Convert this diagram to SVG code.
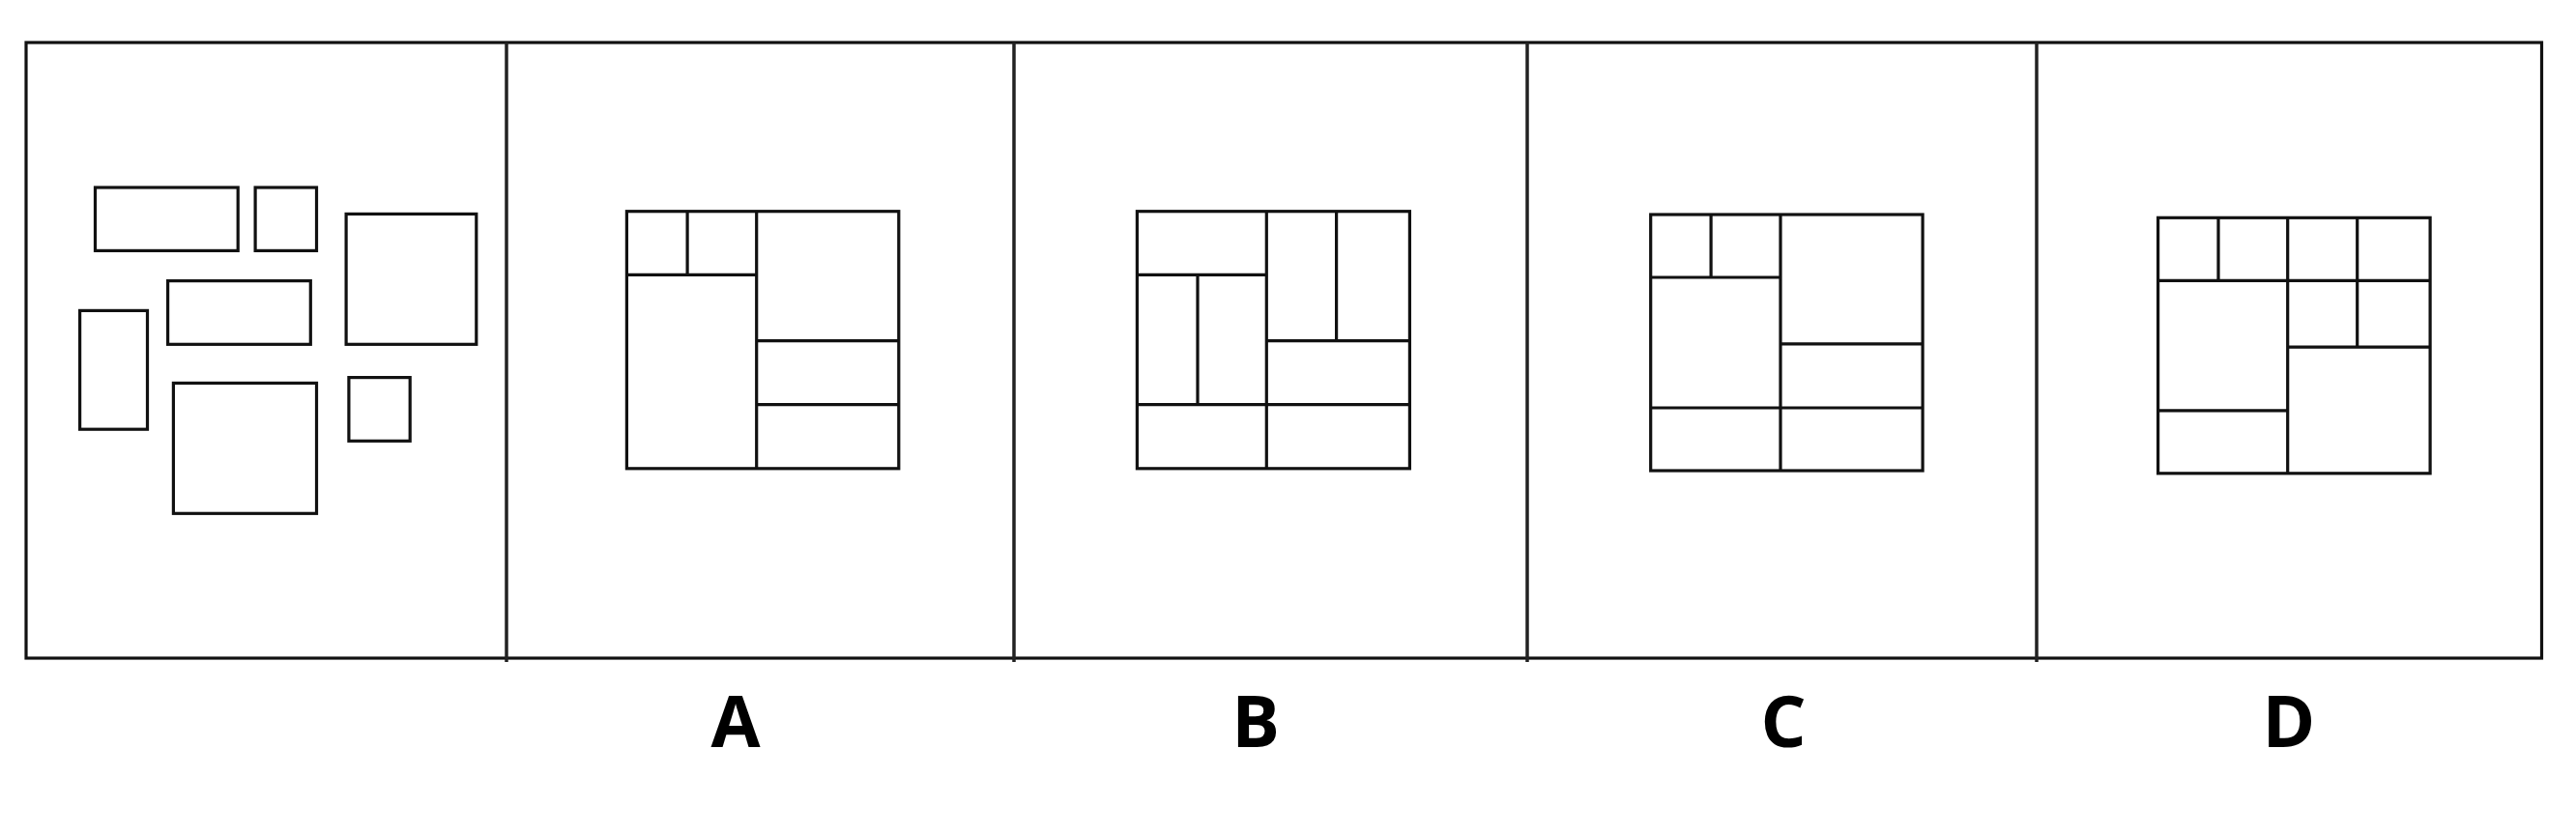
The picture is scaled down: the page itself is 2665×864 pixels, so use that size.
<svg xmlns="http://www.w3.org/2000/svg" width="2665" height="864" viewBox="0 0 2665 864">
<style>
.s{fill:none;stroke:#111;stroke-width:3.2}
.f{fill:none;stroke:#111;stroke-width:3.2}
.d{stroke:#222;stroke-width:3.5}
.lbl{font-family:"Open Sans","Liberation Sans",Arial,sans-serif;font-weight:bold;font-size:74px;fill:#000;text-anchor:middle}
</style>
<rect width="2665" height="864" fill="#fff"/>
<g id="frame">
<rect class="f" x="27" y="44" width="2602.5" height="637"/>
<line class="d" x1="524" y1="44" x2="524" y2="685"/>
<line class="d" x1="1049" y1="44" x2="1049" y2="685"/>
<line class="d" x1="1580" y1="44" x2="1580" y2="685"/>
<line class="d" x1="2107" y1="44" x2="2107" y2="685"/>
</g>
<g id="question">
<rect class="s" x="98.5" y="194" width="147.7" height="65.4"/>
<rect class="s" x="264.1" y="194" width="63.4" height="65.4"/>
<rect class="s" x="358.1" y="221.4" width="134.7" height="134.9"/>
<rect class="s" x="173.6" y="290.6" width="147.7" height="65.7"/>
<rect class="s" x="82.6" y="321.4" width="69.9" height="122.8"/>
<rect class="s" x="179.4" y="396.4" width="148.1" height="134.9"/>
<rect class="s" x="360.9" y="390.6" width="63.3" height="65.7"/>
</g>
<g id="optionA">
<rect class="s" x="648.4" y="218.7" width="281.4" height="266.1"/>
<path class="s" d="M782.7 218.7V484.8M711.1 218.7V284.3M648.4 284.3H782.7M782.7 352.6H929.8M782.7 418.7H929.8"/>
<text class="lbl" x="761" y="773">A</text>
</g>
<g id="optionB">
<rect class="s" x="1176.4" y="218.7" width="282" height="266.1"/>
<path class="s" d="M1310.3 218.7V484.8M1176.4 284.3H1310.3M1239 284.3V418.7M1176.4 418.7H1458.4M1382.6 218.7V352.6M1310.3 352.6H1458.4"/>
<text class="lbl" x="1299" y="773">B</text>
</g>
<g id="optionC">
<rect class="s" x="1707.7" y="222" width="281.4" height="265"/>
<path class="s" d="M1842 222V487M1770.1 222V287M1707.7 287H1842M1842 355.9H1989.1M1707.7 422H1989.1"/>
<text class="lbl" x="1845" y="773">C</text>
</g>
<g id="optionD">
<rect class="s" x="2232.6" y="225.3" width="281.5" height="264.5"/>
<path class="s" d="M2232.6 290.4H2514.1M2295 225.3V290.4M2366.7 225.3V489.8M2438.7 225.3V359.2M2366.7 359.2H2514.1M2232.6 424.8H2366.7"/>
<text class="lbl" x="2368" y="773">D</text>
</g>
</svg>
